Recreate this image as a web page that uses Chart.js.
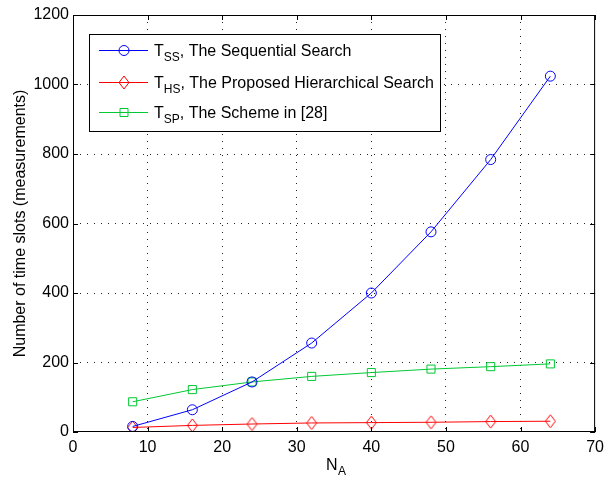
<!DOCTYPE html>
<html>
<head>
<meta charset="utf-8">
<script src="https://cdn.jsdelivr.net/npm/chart.js@4/dist/chart.umd.min.js"></script>
<style>
  html, body { margin: 0; padding: 0; background: #fff; }
  #wrap { width: 610px; height: 479px; }
</style>
</head>
<body>
<div id="wrap"><canvas id="myChart"></canvas></div>
<script>
const nA = [8, 16, 24, 32, 40, 48, 56, 64];
const tSS = [16, 64, 144, 256, 400, 576, 784, 1024];
const tHS = [13, 19, 23, 26, 27, 28, 30, 31];
const tSP = [87, 122, 144, 160, 171, 181, 188, 196];
const xTicks = [0, 10, 20, 30, 40, 50, 60, 70];
const yTicks = [0, 200, 400, 600, 800, 1000, 1200];

const legendItems = [
    { sub: 'SS', text: ', The Sequential Search', color: '#0000ff', marker: 'circle' },
    { sub: 'HS', text: ', The Proposed Hierarchical Search', color: '#ff0000', marker: 'diamond' },
    { sub: 'SP', text: ', The Scheme in [28]', color: '#00c832', marker: 'square' }
];

const fontMain = 'Liberation Sans, Arial, Helvetica, sans-serif';

function makeDiamond(color) {
    const c = document.createElement('canvas');
    c.width = 13;
    c.height = 15;
    const g = c.getContext('2d');
    g.strokeStyle = color;
    g.lineWidth = 1;
    g.beginPath();
    g.moveTo(6.5, 1);
    g.lineTo(11.5, 7.5);
    g.lineTo(6.5, 14);
    g.lineTo(1.5, 7.5);
    g.closePath();
    g.stroke();
    return c;
}
const diamondRed = makeDiamond('#ff0000');

function drawMarker(ctx, type, x, y, color) {
    ctx.save();
    ctx.strokeStyle = color;
    ctx.lineWidth = 1;
    ctx.beginPath();
    if (type === 'circle') {
        ctx.arc(x, y, 5, 0, Math.PI * 2);
    } else if (type === 'square') {
        ctx.rect(x - 4, y - 4, 8, 8);
    } else {
        ctx.moveTo(x, y - 6.5);
        ctx.lineTo(x + 5, y);
        ctx.lineTo(x, y + 6.5);
        ctx.lineTo(x - 5, y);
        ctx.closePath();
    }
    ctx.stroke();
    ctx.restore();
}

const matlabFrame = {
    id: 'matlabFrame',
    afterDraw(chart) {
        const ctx = chart.ctx;
        const a = chart.chartArea;
        const xs = chart.scales.x;
        const ys = chart.scales.y;
        ctx.save();
        ctx.strokeStyle = '#000';
        ctx.lineWidth = 1;
        // box
        ctx.strokeRect(a.left + 0.5, a.top + 0.5, a.right - a.left - 1, a.bottom - a.top - 1);
        // inward ticks
        ctx.beginPath();
        xTicks.forEach(v => {
            const px = Math.round(xs.getPixelForValue(v)) + 0.5;
            ctx.moveTo(px, a.bottom);
            ctx.lineTo(px, a.bottom - 5);
            ctx.moveTo(px, a.top);
            ctx.lineTo(px, a.top + 5);
        });
        yTicks.forEach(v => {
            const py = Math.round(ys.getPixelForValue(v)) + 0.5;
            ctx.moveTo(a.left, py);
            ctx.lineTo(a.left + 5, py);
            ctx.moveTo(a.right, py);
            ctx.lineTo(a.right - 5, py);
        });
        ctx.stroke();

        // axis titles
        ctx.fillStyle = '#000';
        ctx.font = '16px ' + fontMain;
        ctx.textBaseline = 'alphabetic';
        ctx.textAlign = 'left';
        const cx = (a.left + a.right) / 2;
        ctx.fillText('N', cx - 8, 470);
        ctx.font = '12px ' + fontMain;
        ctx.fillText('A', cx + 4, 475);

        ctx.save();
        ctx.translate(25, (a.top + a.bottom) / 2);
        ctx.rotate(-Math.PI / 2);
        ctx.font = '16px ' + fontMain;
        ctx.textAlign = 'center';
        ctx.fillText('Number of time slots (measurements)', 0, 0);
        ctx.restore();

        // legend
        const lx = 89, ly = 34, lw = 351, lh = 97;
        ctx.fillStyle = '#fff';
        ctx.fillRect(lx, ly, lw, lh);
        ctx.strokeRect(lx + 0.5, ly + 0.5, lw, lh);
        const rows = [50, 82, 112];
        legendItems.forEach((it, i) => {
            const y = rows[i];
            ctx.strokeStyle = it.color;
            ctx.beginPath();
            ctx.moveTo(99, y + 0.5);
            ctx.lineTo(148, y + 0.5);
            ctx.stroke();
            drawMarker(ctx, it.marker, 124, y + 0.5, it.color);
            ctx.fillStyle = '#000';
            ctx.textAlign = 'left';
            ctx.font = '16px ' + fontMain;
            ctx.fillText('T', 154, y + 6);
            const tw = ctx.measureText('T').width;
            ctx.font = '12px ' + fontMain;
            ctx.fillText(it.sub, 154 + tw, y + 11);
            const sw = ctx.measureText(it.sub).width;
            ctx.font = '16px ' + fontMain;
            ctx.fillText(it.text, 154 + tw + sw, y + 6);
        });
        ctx.restore();
    }
};

const ctx = document.getElementById('myChart');
const myChart = new Chart(ctx, {
    type: 'line',
    data: {
        labels: nA,
        datasets: [
            {
                label: 'T_SS, The Sequential Search',
                data: nA.map((x, i) => ({ x: x, y: tSS[i] })),
                borderColor: '#0000ff',
                backgroundColor: 'transparent',
                borderWidth: 1,
                pointStyle: 'circle',
                pointRadius: 5,
                pointBorderColor: '#0000ff',
                pointBackgroundColor: 'transparent',
                pointBorderWidth: 1
            },
            {
                label: 'T_HS, The Proposed Hierarchical Search',
                data: nA.map((x, i) => ({ x: x, y: tHS[i] })),
                borderColor: '#ff0000',
                backgroundColor: 'transparent',
                borderWidth: 1,
                pointStyle: diamondRed,
                pointBorderWidth: 1
            },
            {
                label: 'T_SP, The Scheme in [28]',
                data: nA.map((x, i) => ({ x: x, y: tSP[i] })),
                borderColor: '#00c832',
                backgroundColor: 'transparent',
                borderWidth: 1,
                pointStyle: 'rect',
                pointRadius: 5.7,
                pointBorderColor: '#00c832',
                pointBackgroundColor: 'transparent',
                pointBorderWidth: 1
            }
        ]
    },
    options: {
        responsive: true,
        maintainAspectRatio: false,
        animation: false,
        layout: { padding: { left: 0, right: 9, top: 15, bottom: 0 } },
        plugins: {
            legend: { display: false },
            tooltip: { enabled: false }
        },
        scales: {
            x: {
                type: 'linear',
                min: 0,
                max: 70,
                afterBuildTicks: s => { s.ticks = xTicks.map(v => ({ value: v })); },
                afterFit: s => { s.height = 47; },
                border: { display: false, dash: [1, 6] },
                grid: {
                    color: '#222',
                    lineWidth: c => (c.tick && (c.tick.value === 0 || c.tick.value === 70)) ? 0 : 1,
                    tickLength: 0,
                    drawTicks: false
                },
                ticks: {
                    color: '#000',
                    padding: 6,
                    maxRotation: 0,
                    font: { family: fontMain, size: 16 },
                    callback: v => String(v)
                }
            },
            y: {
                type: 'linear',
                min: 0,
                max: 1200,
                afterBuildTicks: s => { s.ticks = yTicks.map(v => ({ value: v })); },
                afterFit: s => { s.width = 73; },
                border: { display: false, dash: [1, 6] },
                grid: {
                    color: '#222',
                    lineWidth: c => (c.tick && (c.tick.value === 0 || c.tick.value === 1200)) ? 0 : 1,
                    tickLength: 0,
                    drawTicks: false
                },
                ticks: {
                    color: '#000',
                    padding: 4,
                    font: { family: fontMain, size: 16 },
                    callback: v => String(v)
                }
            }
        }
    },
    plugins: [matlabFrame]
});
</script>
</body>
</html>
